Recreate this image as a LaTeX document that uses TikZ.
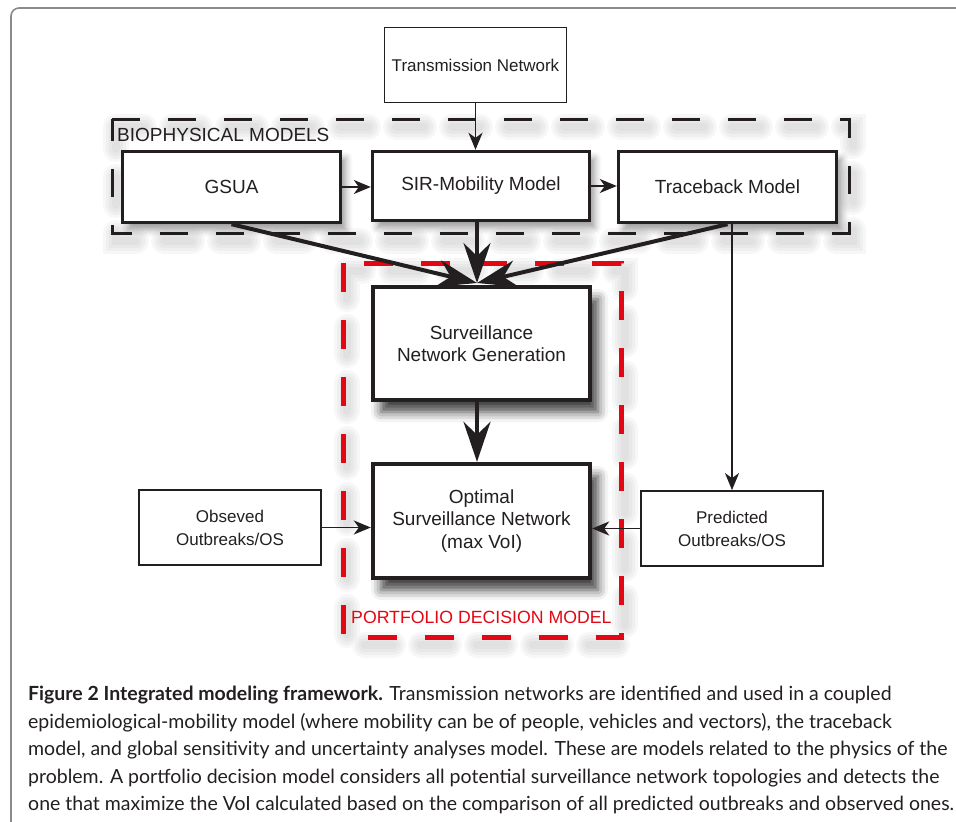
\documentclass[tikz,border=0pt]{standalone}
\usepackage{fontspec}
\setmainfont{Liberation Sans}
\newfontfamily\captionfont{Lato}
\usetikzlibrary{arrows.meta,shadows.blur}
\definecolor{decred}{HTML}{E30613}
\definecolor{framegray}{HTML}{8A8A8A}
\definecolor{inkblack}{HTML}{231F20}

\begin{document}
\begin{tikzpicture}[x=1pt,y=-1pt,
  thinbox/.style={draw=inkblack,line width=1.8pt,fill=white,align=center,
    text=inkblack,font=\fontsize{17}{23}\selectfont},
  modelbox/.style={draw=inkblack,line width=3.4pt,fill=white,align=center,
    text=inkblack,font=\fontsize{19}{23}\selectfont,
    blur shadow={shadow xshift=5pt,shadow yshift=-7pt,shadow blur radius=7pt,shadow opacity=40}},
  decisionbox/.style={draw=inkblack,line width=4.4pt,fill=white,align=center,
    text=inkblack,font=\fontsize{19}{22.5}\selectfont,
    blur shadow={shadow xshift=8pt,shadow yshift=-12pt,shadow blur radius=10pt,shadow opacity=75}},
  thinarrow/.style={inkblack,line width=1.8pt,-{Stealth[length=17pt,width=14pt,inset=5pt]}},
  bigarrow/.style={inkblack,line width=4pt,-{Stealth[length=40pt,width=27pt,inset=13pt]}},
  biogroup/.style={inkblack,line width=3pt,dash pattern=on 28pt off 28pt},
  decgroup/.style={decred,line width=5pt,dash pattern=on 29pt off 28pt},
  groupshade/.style={black,opacity=0.03,line cap=round,dash pattern=on 28pt off 28pt,shift={(4,8)}},
]
\useasboundingbox (0,0) rectangle (956,822);
\begin{scope}
  \clip (0,0) rectangle (956,822);
  \draw[framegray,line width=1.6pt,rounded corners=8pt] (990,8) -- (11,8) -- (11,860);
\end{scope}

% groups
\foreach \w in {26,20,14,8}
  \draw[groupshade,line width=\w pt] (112,119) -- (849,119) -- (849,233) -- (112,233) -- cycle;
\draw[biogroup] (112,119) -- (849,119) -- (849,233) -- (112,233) -- cycle;
\node[anchor=base west,inner sep=0,text=inkblack,font=\fontsize{19}{23}\selectfont] (biolabel) at (117,141) {BIOPHYSICAL MODELS};

\foreach \w in {26,20,14,8}
  \draw[groupshade,line width=\w pt] (343,263) -- (343,637) -- (621,637) -- (621,263) -- cycle;
\draw[decgroup] (343,263) -- (343,637) -- (621,637) -- (621,263) -- cycle;
\node[anchor=base west,inner sep=0,text=decred,font=\fontsize{17.7}{21}\selectfont] (declabel) at (351,623) {PORTFOLIO DECISION MODEL};

% boxes
\node[thinbox,minimum width=182pt,minimum height=75pt] (trans) at (475.5,65) {Transmission Network};
\node[modelbox,minimum width=218pt,minimum height=71pt] (gsua) at (231.5,187) {GSUA};
\node[modelbox,minimum width=217pt,minimum height=69pt] (sir) at (481,186) {SIR-Mobility Model};
\node[modelbox,minimum width=218pt,minimum height=71pt] (trace) at (727.5,187) {Traceback Model};
\node[decisionbox,minimum width=217pt,minimum height=113pt] (surv) at (481.5,343.5) {Surveillance\\Network Generation};
\node[decisionbox,minimum width=217pt,minimum height=114pt] (opt) at (481.5,521) {Optimal\\Surveillance Network\\(max VoI)};
\node[thinbox,minimum width=182pt,minimum height=75pt] (obs) at (230,527.5) {Obseved\\Outbreaks/OS};
\node[thinbox,minimum width=182pt,minimum height=75pt] (pred) at (732,528.5) {Predicted\\Outbreaks/OS};

% connectors
\coordinate (meet) at (477,283);
\draw[thinarrow] (trans.south) -- (trans.south |- sir.north);
\draw[thinarrow] (gsua.east) -- (sir.west |- gsua.east);
\draw[thinarrow] (sir.east) -- (trace.west |- sir.east);
\draw[bigarrow] (gsua.south) -- (meet);
\draw[bigarrow] (sir.south -| meet) -- (meet);
\draw[bigarrow] (trace.south) -- (meet);
\draw[bigarrow] (surv.south -| meet) -- (opt.north -| meet);
\draw[thinarrow] (trace.south -| pred.north) -- (pred.north);
\draw[thinarrow] (obs.east) -- (opt.west |- obs.east);
\draw[thinarrow] (pred.west) -- (opt.east |- pred.west);

% caption
\node[anchor=north west,inner sep=0,align=left,text=inkblack,
  font=\captionfont\fontsize{19.5}{27.5}\selectfont] (caption) at (28,686)
  {\textbf{Figure 2 Integrated modeling framework.} Transmission networks are identified and used in a coupled\\
   epidemiological-mobility model (where mobility can be of people, vehicles and vectors), the traceback\\
   model, and global sensitivity and uncertainty analyses model. These are models related to the physics of the\\
   problem. A portfolio decision model considers all potential surveillance network topologies and detects the\\
   one that maximize the VoI calculated based on the comparison of all predicted outbreaks and observed ones.};
\end{tikzpicture}
\end{document}
